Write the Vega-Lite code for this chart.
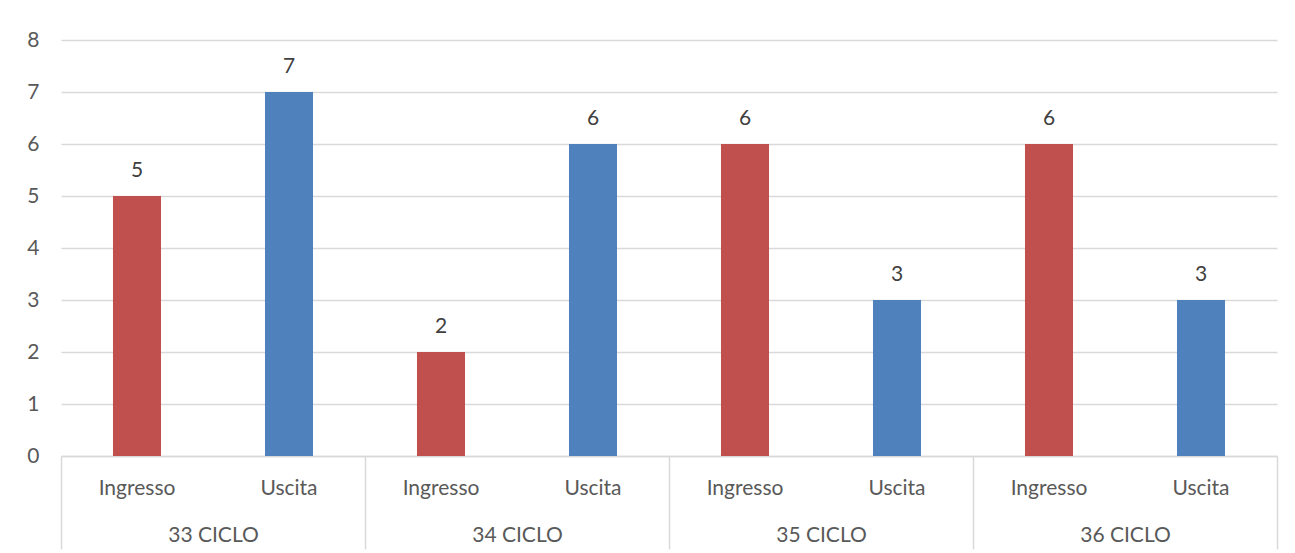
{
  "$schema": "https://vega.github.io/schema/vega-lite/v6.json",
  "autosize": {"type": "none"},
  "padding": {"left": 61, "top": 40, "right": 18, "bottom": 97},
  "width": 1216,
  "height": 416,
  "background": "white",
  "config": {
    "view": {"stroke": null},
    "font": "Lato",
    "axis": {"labelFont": "Lato", "labelFontSize": 21, "labelColor": "#595959", "labelFontWeight": "normal"}
  },
  "data": {
    "values": [
      {"group": "33 CICLO", "tipo": "Ingresso", "key": "33 CICLO|Ingresso", "value": 5},
      {"group": "33 CICLO", "tipo": "Uscita", "key": "33 CICLO|Uscita", "value": 7},
      {"group": "34 CICLO", "tipo": "Ingresso", "key": "34 CICLO|Ingresso", "value": 2},
      {"group": "34 CICLO", "tipo": "Uscita", "key": "34 CICLO|Uscita", "value": 6},
      {"group": "35 CICLO", "tipo": "Ingresso", "key": "35 CICLO|Ingresso", "value": 6},
      {"group": "35 CICLO", "tipo": "Uscita", "key": "35 CICLO|Uscita", "value": 3},
      {"group": "36 CICLO", "tipo": "Ingresso", "key": "36 CICLO|Ingresso", "value": 6},
      {"group": "36 CICLO", "tipo": "Uscita", "key": "36 CICLO|Uscita", "value": 3}
    ]
  },
  "layer": [
    {
      "layer": [
        {
          "mark": {"type": "bar"},
          "encoding": {
            "x": {
              "field": "key", "type": "nominal", "sort": null,
              "scale": {"paddingInner": 0.684, "paddingOuter": 0.342},
              "axis": {
                "orient": "bottom", "title": null, "labelAngle": 0,
                "labelExpr": "split(datum.value, '|')[1]",
                "ticks": false, "domain": true, "domainColor": "#d9d9d9", "domainWidth": 1.5,
                "labelPadding": 21, "grid": false
              }
            },
            "y": {
              "field": "value", "type": "quantitative",
              "scale": {"domain": [0, 8], "nice": false},
              "axis": {
                "title": null, "values": [0, 1, 2, 3, 4, 5, 6, 7, 8],
                "domain": false, "ticks": false, "labelPadding": 22,
                "grid": true, "gridColor": "#d9d9d9", "gridWidth": 1.5, "format": "d"
              }
            },
            "color": {
              "field": "tipo", "type": "nominal", "legend": null,
              "scale": {"domain": ["Ingresso", "Uscita"], "range": ["#C0504D", "#4F81BD"]}
            }
          }
        },
        {
          "mark": {"type": "text", "baseline": "middle", "dy": -25, "fontSize": 21, "color": "#404040", "font": "Lato"},
          "encoding": {
            "x": {"field": "key", "type": "nominal", "sort": null},
            "y": {"field": "value", "type": "quantitative"},
            "text": {"field": "value", "type": "quantitative"}
          }
        }
      ]
    },
    {
      "mark": {"type": "point", "opacity": 0},
      "encoding": {
        "x": {
          "field": "group", "type": "nominal", "sort": null,
          "axis": {
            "orient": "bottom", "title": null, "labelAngle": 0,
            "tickBand": "extent", "tickSize": 93, "tickColor": "#d9d9d9", "tickWidth": 1.5,
            "domain": false, "labelPadding": -25, "grid": false
          }
        },
        "y": {"field": "value", "type": "quantitative"}
      }
    }
  ],
  "resolve": {"scale": {"x": "independent"}}
}
